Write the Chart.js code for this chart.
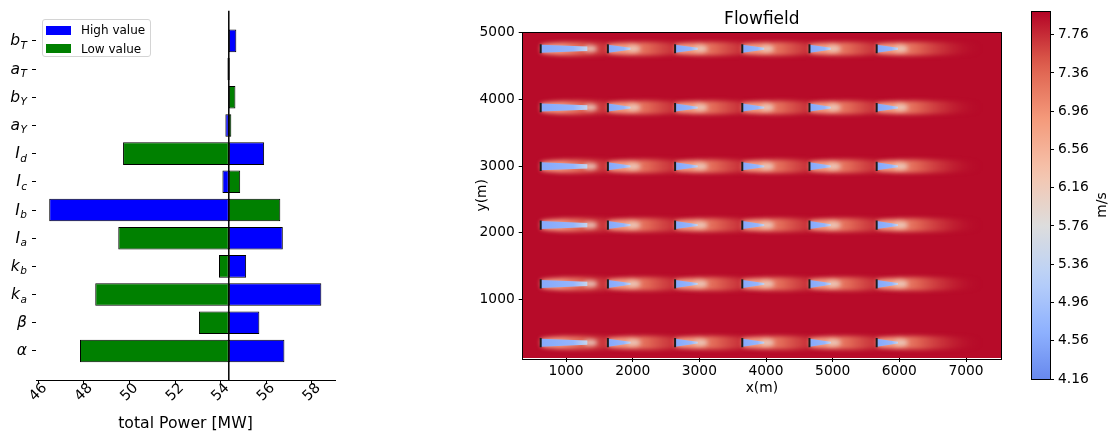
<!DOCTYPE html>
<html>
<head>
<meta charset="utf-8">
<script src="https://cdn.jsdelivr.net/npm/chart.js@4.4.0/dist/chart.umd.min.js"></script>
<style>
  body { margin: 0; background: #fff; width: 1116px; height: 436px; position: relative; overflow: hidden; font-family: "DejaVu Sans", sans-serif; }
  .panel { position: absolute; top: 0; height: 436px; }
  #legend { position: absolute; left: 42px; top: 19px; width: 107px; height: 36px; border: 1px solid #d4d4d4; border-radius: 3px; background: rgba(255,255,255,0.8); font: 12px "DejaVu Sans"; color: #000; }
  #legend .item { position: absolute; left: 3px; height: 14px; line-height: 14px; white-space: nowrap; }
  #legend .patch { position: absolute; left: 0; top: 2.5px; width: 25px; height: 9px; }
  #legend .text { position: absolute; left: 35px; top: 0; }
</style>
</head>
<body>
<div class="panel" style="left:0;width:345px"><canvas id="tornado"></canvas></div>
<div class="panel" style="left:440px;width:580px"><canvas id="flow"></canvas></div>
<div class="panel" style="left:1020px;width:96px"><canvas id="cbar"></canvas></div>
<div id="legend"></div>
<script>
// ---- sensitivity (tornado) data, bottom to top ----
const params = ['α', 'β', 'k_a', 'k_b', 'I_a', 'I_b', 'I_c', 'I_d', 'a_Y', 'b_Y', 'a_T', 'b_T'];
const highValue = [56.80, 55.70, 58.42, 55.12, 56.73, 46.48, 54.08, 55.91, 54.21, 54.36, 54.30, 54.69];
const lowValue  = [47.83, 53.05, 48.50, 53.93, 49.51, 56.62, 54.86, 49.72, 54.47, 54.65, 54.40, 54.36];
const basePower = 54.36;
const powerTicks = [46, 48, 50, 52, 54, 56, 58];

// ---- flowfield data ----
const turbineX = [620, 1628, 2636, 3644, 4652, 5660];
const turbineY = [350, 1232, 2114, 2996, 3878, 4760];
const rotorDiameter = 126;
const wakeCoreLength = [700, 340, 340, 330, 320, 320];
const xTicks = [1000, 2000, 3000, 4000, 5000, 6000, 7000];
const yTicks = [1000, 2000, 3000, 4000, 5000];
const speedTicks = [4.16, 4.56, 4.96, 5.36, 5.76, 6.16, 6.56, 6.96, 7.36, 7.76];
const speedMin = 4.16;
const speedMax = 8.0;
const freeStream = 7.96;

Chart.defaults.font.family = '"DejaVu Sans", sans-serif';
Chart.defaults.animation = false;

// coolwarm colour map
const coolwarmStops = [[59,76,192],[98,130,234],[141,176,254],[184,208,249],[221,221,221],[245,196,173],[244,154,123],[222,96,77],[180,4,38]];
function coolwarm(t, alpha = 1) {
    t = Math.max(0, Math.min(1, t));
    const p = t * 8, i = Math.min(7, Math.floor(p)), f = p - i;
    const c = coolwarmStops[i].map((v, k) => Math.round(v + (coolwarmStops[i + 1][k] - v) * f));
    return `rgba(${c[0]},${c[1]},${c[2]},${alpha})`;
}
const speedColor = (v, a = 1) => coolwarm((v - 3.52) / 4.48, a);

// ---------------- tornado chart ----------------
const tornadoPlugin = {
    id: 'tornadoDecor',
    afterDatasetsDraw(chart) {
        const { ctx, chartArea: a, scales: { x } } = chart;
        ctx.save();
        ctx.strokeStyle = '#000';
        ctx.lineWidth = 1.5;
        const bx = x.getPixelForValue(basePower);
        ctx.beginPath(); ctx.moveTo(bx, a.top); ctx.lineTo(bx, a.bottom); ctx.stroke();
        ctx.restore();
    },
    afterDraw(chart) {
        const { ctx, chartArea: a, scales: { x, y } } = chart;
        ctx.save();
        ctx.fillStyle = '#000';
        // y tick labels (italic with subscript)
        params.forEach((lab, i) => {
            const [main, sub] = lab.split('_');
            const py = y.getPixelForValue(i);
            ctx.font = 'italic 15.5px "DejaVu Sans"';
            const wm = ctx.measureText(main).width;
            ctx.font = 'italic 10.5px "DejaVu Sans"';
            const ws = sub ? ctx.measureText(sub).width + 0.5 : 0;
            const x0 = a.left - 9 - ws - wm;
            ctx.textAlign = 'left';
            ctx.textBaseline = 'alphabetic';
            ctx.font = 'italic 15.5px "DejaVu Sans"';
            ctx.fillText(main, x0, py + 4.5);
            if (sub) {
                ctx.font = 'italic 10.5px "DejaVu Sans"';
                ctx.fillText(sub, x0 + wm + 0.5, py + 8);
            }
        });
        // x tick labels, rotated 45
        ctx.font = '14.3px "DejaVu Sans"';
        ctx.textAlign = 'center';
        ctx.textBaseline = 'middle';
        powerTicks.forEach(v => {
            ctx.save();
            ctx.translate(x.getPixelForValue(v), a.bottom + 12.5);
            ctx.rotate(-Math.PI / 4);
            ctx.fillText(String(v), 0, 0);
            ctx.restore();
        });
        ctx.font = '15.7px "DejaVu Sans"';
        ctx.textBaseline = 'alphabetic';
        ctx.fillText('total Power [MW]', (a.left + a.right) / 2, 428);
        ctx.restore();
    }
};

const tornado = new Chart(document.getElementById('tornado'), {
    type: 'bar',
    data: {
        datasets: [
            {
                label: 'High value',
                data: highValue.map((v, i) => ({ x: [basePower, v], y: i })),
                backgroundColor: '#0000ff',
                borderColor: '#000',
                borderWidth: 1,
                borderSkipped: false,
                grouped: false,
                order: 2
            },
            {
                label: 'Low value',
                data: lowValue.map((v, i) => ({ x: [basePower, v], y: i })),
                backgroundColor: '#008000',
                borderColor: '#000',
                borderWidth: 1,
                borderSkipped: false,
                grouped: false,
                order: 1
            }
        ]
    },
    options: {
        indexAxis: 'y',
        responsive: true,
        maintainAspectRatio: false,
        devicePixelRatio: 1,
        events: [],
        categoryPercentage: 1,
        barPercentage: 0.8,
        layout: { padding: { top: 10.7, right: 10, left: 0, bottom: 0 } },
        plugins: { legend: { display: false }, tooltip: { enabled: false } },
        scales: {
            x: {
                type: 'linear',
                min: 45.9,
                max: 59.02,
                afterBuildTicks: s => { s.ticks = powerTicks.map(v => ({ value: v })); },
                afterFit: s => { s.height = 56; },
                ticks: { display: false },
                grid: { drawOnChartArea: false, drawTicks: true, tickLength: 4, color: '#000' },
                border: { display: true, color: '#000', width: 1 }
            },
            y: {
                type: 'linear',
                offset: false,
                min: -1.03,
                max: 12.07,
                afterBuildTicks: s => { s.ticks = params.map((p, i) => ({ value: i })); },
                afterFit: s => { s.width = 36; },
                ticks: { display: false },
                grid: { offset: false, drawOnChartArea: false, drawTicks: true, tickLength: 4, color: '#000' },
                border: { display: false }
            }
        }
    },
    plugins: [tornadoPlugin]
});

// legend built from the datasets
document.getElementById('legend').innerHTML = tornado.data.datasets.map((d, i) =>
    `<div class="item" style="top:${3 + i * 18.7}px"><span class="patch" style="background:${d.backgroundColor}"></span><span class="text">${d.label}</span></div>`
).join('');

// ---------------- flowfield ----------------
function drawWakes(chart) {
    const { ctx, chartArea: a, scales: { x, y } } = chart;
    const mx = Math.abs(x.getPixelForValue(1000) - x.getPixelForValue(0)) / 1000;
    const my = Math.abs(y.getPixelForValue(1000) - y.getPixelForValue(0)) / 1000;
    const r = rotorDiameter / 2 * my;
    ctx.save();
    ctx.beginPath(); ctx.rect(a.left, a.top, a.width, a.height); ctx.clip();
    ctx.fillStyle = speedColor(freeStream);
    ctx.fillRect(a.left, a.top, a.width, a.height);

    const each = fn => turbineX.forEach((tx, c) => turbineY.forEach(ty => fn(x.getPixelForValue(tx), y.getPixelForValue(ty), c)));

    // wake tails
    ctx.filter = 'blur(2px)';
    each((x0, yc, c) => {
        const L = 1550 * mx, h = r * 1.8;
        const g = ctx.createLinearGradient(x0, 0, x0 + L, 0);
        g.addColorStop(0, speedColor(6.75, 1));
        g.addColorStop(0.18, speedColor(6.85, 1));
        g.addColorStop(0.4, speedColor(7.3, 0.9));
        g.addColorStop(0.68, speedColor(7.65, 0.6));
        g.addColorStop(1, speedColor(7.9, 0));
        ctx.fillStyle = g;
        ctx.beginPath();
        ctx.moveTo(x0, yc - r);
        ctx.bezierCurveTo(x0 + 0.15 * L, yc - h, x0 + 0.6 * L, yc - h, x0 + L, yc - h * 0.6);
        ctx.lineTo(x0 + L, yc + h * 0.6);
        ctx.bezierCurveTo(x0 + 0.6 * L, yc + h, x0 + 0.15 * L, yc + h, x0, yc + r);
        ctx.closePath();
        ctx.fill();
    });
    // bright spot past the core
    ctx.filter = 'blur(2px)';
    each((x0, yc, c) => {
        ctx.fillStyle = speedColor(6.05, 0.9);
        ctx.beginPath();
        ctx.ellipse(x0 + wakeCoreLength[c] * mx + 3, yc, 7, r * 0.7, 0, 0, Math.PI * 2);
        ctx.fill();
    });
    // blue core
    ctx.filter = 'blur(0.5px)';
    each((x0, yc, c) => {
        const cl = wakeCoreLength[c] * mx;
        const e = c === 0 ? 2.2 : 0.9;
        const g = ctx.createLinearGradient(x0, 0, x0 + cl, 0);
        g.addColorStop(0, speedColor(4.55));
        g.addColorStop(0.7, speedColor(4.75));
        g.addColorStop(1, speedColor(5.4));
        ctx.fillStyle = g;
        ctx.beginPath();
        ctx.moveTo(x0, yc - r * 0.95);
        ctx.lineTo(x0 + cl, yc - e);
        ctx.lineTo(x0 + cl, yc + e);
        ctx.lineTo(x0, yc + r * 0.95);
        ctx.closePath();
        ctx.fill();
    });
    ctx.restore();
}

const flowPlugin = {
    id: 'flowDecor',
    beforeDatasetsDraw: drawWakes,
    afterDraw(chart) {
        const { ctx, chartArea: a, scales: { x, y } } = chart;
        ctx.save();
        ctx.strokeStyle = '#000';
        ctx.lineWidth = 1;
        ctx.strokeRect(Math.round(a.left) - 0.5, Math.round(a.top) - 0.5, Math.round(a.width) + 1, Math.round(a.height) + 1);
        ctx.fillStyle = '#000';
        ctx.font = '13.8px "DejaVu Sans"';
        ctx.textAlign = 'center';
        ctx.textBaseline = 'top';
        xTicks.forEach(v => ctx.fillText(String(v), x.getPixelForValue(v), a.bottom + 7));
        ctx.textAlign = 'right';
        ctx.textBaseline = 'middle';
        yTicks.forEach(v => ctx.fillText(String(v), a.left - 8, y.getPixelForValue(v)));
        ctx.textAlign = 'center';
        ctx.textBaseline = 'alphabetic';
        ctx.fillText('x(m)', (a.left + a.right) / 2, 392);
        ctx.save();
        ctx.translate(42, (a.top + a.bottom) / 2);
        ctx.rotate(-Math.PI / 2);
        ctx.textBaseline = 'middle';
        ctx.fillText('y(m)', 0, 0);
        ctx.restore();
        ctx.font = '17px "DejaVu Sans"';
        ctx.fillText('Flowfield', (a.left + a.right) / 2, 24);
        ctx.restore();
    }
};

new Chart(document.getElementById('flow'), {
    type: 'scatter',
    data: {
        datasets: [{
            label: 'turbines',
            data: turbineX.flatMap(tx => turbineY.map(ty => ({ x: tx, y: ty }))),
            pointStyle: 'line',
            rotation: 90,
            radius: 4.6,
            borderWidth: 2,
            borderColor: '#1c1c1c'
        }]
    },
    options: {
        responsive: true,
        maintainAspectRatio: false,
        devicePixelRatio: 1,
        events: [],
        layout: { padding: { top: 32.5, right: 19, left: 0, bottom: 0 } },
        plugins: { legend: { display: false }, tooltip: { enabled: false } },
        scales: {
            x: {
                type: 'linear',
                min: 350,
                max: 7525,
                afterBuildTicks: s => { s.ticks = xTicks.map(v => ({ value: v })); },
                afterFit: s => { s.height = 78; },
                ticks: { display: false },
                grid: { drawOnChartArea: false, drawTicks: true, tickLength: 4, color: '#000' },
                border: { display: false }
            },
            y: {
                type: 'linear',
                min: 120,
                max: 5004,
                afterBuildTicks: s => { s.ticks = yTicks.map(v => ({ value: v })); },
                afterFit: s => { s.width = 82.7; },
                ticks: { display: false },
                grid: { drawOnChartArea: false, drawTicks: true, tickLength: 4, color: '#000' },
                border: { display: false }
            }
        }
    },
    plugins: [flowPlugin]
});

// ---------------- colorbar ----------------
const cbarPlugin = {
    id: 'cbarDecor',
    afterDraw(chart) {
        const { ctx, chartArea: a, scales: { y } } = chart;
        ctx.save();
        ctx.strokeStyle = '#000';
        ctx.lineWidth = 1;
        ctx.strokeRect(Math.round(a.left) - 0.5, Math.round(a.top) - 0.5, Math.round(a.width) + 1, Math.round(a.height) + 1);
        ctx.fillStyle = '#000';
        ctx.font = '13.8px "DejaVu Sans"';
        ctx.textAlign = 'left';
        ctx.textBaseline = 'middle';
        speedTicks.forEach(v => ctx.fillText(v.toFixed(2), a.right + 8, y.getPixelForValue(v)));
        ctx.translate(82, 205);
        ctx.rotate(-Math.PI / 2);
        ctx.textAlign = 'center';
        ctx.fillText('m/s', 0, 0);
        ctx.restore();
    }
};

new Chart(document.getElementById('cbar'), {
    type: 'bar',
    data: {
        labels: [''],
        datasets: [{
            data: [[speedMin, speedMax]],
            borderWidth: 0,
            categoryPercentage: 1,
            barPercentage: 1,
            backgroundColor: c => {
                const { chart } = c;
                if (!chart.chartArea) return speedColor(freeStream);
                const y = chart.scales.y;
                const g = chart.ctx.createLinearGradient(0, y.getPixelForValue(speedMin), 0, y.getPixelForValue(speedMax));
                for (let k = 0; k <= 24; k++) {
                    g.addColorStop(k / 24, speedColor(speedMin + (speedMax - speedMin) * k / 24));
                }
                return g;
            }
        }]
    },
    options: {
        responsive: true,
        maintainAspectRatio: false,
        devicePixelRatio: 1,
        events: [],
        layout: { padding: { top: 11.7, right: 0, left: 11.7, bottom: 57 } },
        plugins: { legend: { display: false }, tooltip: { enabled: false } },
        scales: {
            x: { display: false },
            y: {
                position: 'right',
                min: speedMin,
                max: speedMax,
                afterBuildTicks: s => { s.ticks = speedTicks.map(v => ({ value: v })); },
                afterFit: s => { s.width = 66; },
                ticks: { display: false },
                grid: { drawOnChartArea: false, drawTicks: true, tickLength: 4, color: '#000' },
                border: { display: false }
            }
        }
    },
    plugins: [cbarPlugin]
});
</script>
</body>
</html>
